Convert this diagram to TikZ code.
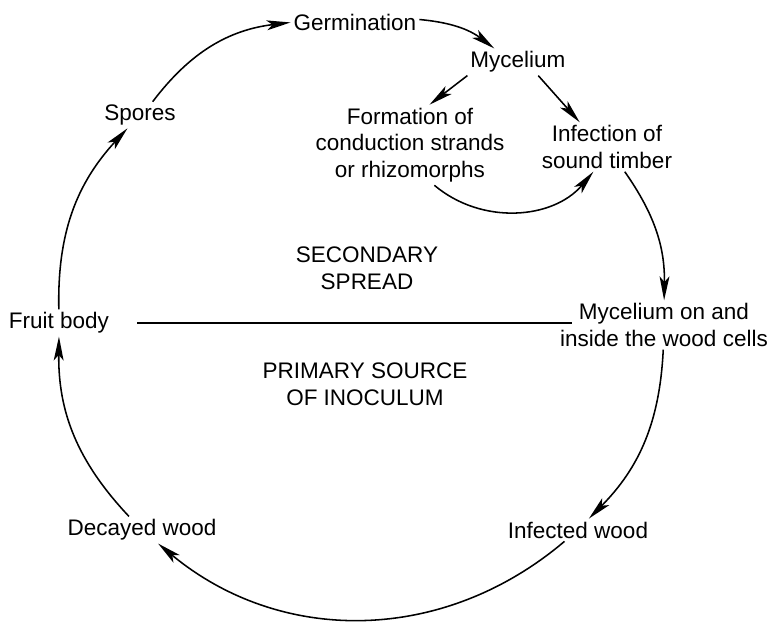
\documentclass[tikz,border=0pt]{standalone}
\usepackage{fontspec}
\setmainfont{Liberation Sans}
\usetikzlibrary{arrows.meta,calc}

\tikzset{
  stage/.style={align=center, inner sep=2pt, font=\fontsize{16}{19}\selectfont},
  flow/.style={-{Stealth[length=17pt,width=7pt,inset=4pt]}, line width=1.1pt},
  divider/.style={line width=1.1pt},
}

\begin{document}
\begin{tikzpicture}[x=0.025cm, y=-0.025cm]
\useasboundingbox (0,0) rectangle (772,626);

\node[stage] (germ) at (355,22) {Germination};
\node[stage] (myc) at (518,62) {Mycelium};
\node[stage] (form) at (410,145) {Formation of\\conduction strands\\or rhizomorphs};
\node[stage] (infect) at (607,147) {Infection of\\sound timber};
\node[stage] (spores) at (140,115) {Spores};
\node[stage] (fruit) at (59,323) {Fruit body};
\node[stage] (cells) at (664,325) {Mycelium on and\\inside the wood cells};
\node[stage] (decayed) at (142,530) {Decayed wood};
\node[stage] (infected) at (578,530) {Infected wood};
\node[stage] (second) at (367,268) {SECONDARY\\SPREAD};
\node[stage] (primary) at (365,384) {PRIMARY SOURCE\\OF INOCULUM};

\coordinate (divL) at (137,323);
\coordinate (divR) at (572,323);
\draw[divider] (divL) -- (divR);

\draw[flow] (fruit) to[bend left=22] (spores);
\draw[flow] (spores) to[bend left=23] (germ);
\draw[flow] (germ) to[bend left=16] (myc);
\draw[flow] (myc.south west) -- ($(form.north)!.2!(form.north east)$);
\draw[flow] ($(myc.south)!.4!(myc.south east)$) -- ($(infect.north)!.4!(infect.north west)$);
\draw[flow] ($(form.south)!.25!(form.south east)$) to[bend right=45] ($(infect.south)!.2!(infect.south west)$);
\draw[flow] (infect) to[bend left=18] (cells);
\draw[flow] (cells) to[bend left=21] (infected);
\draw[flow] (infected) to[bend left=40] (decayed);
\draw[flow] (decayed) to[bend left=22] (fruit);
\end{tikzpicture}
\end{document}
